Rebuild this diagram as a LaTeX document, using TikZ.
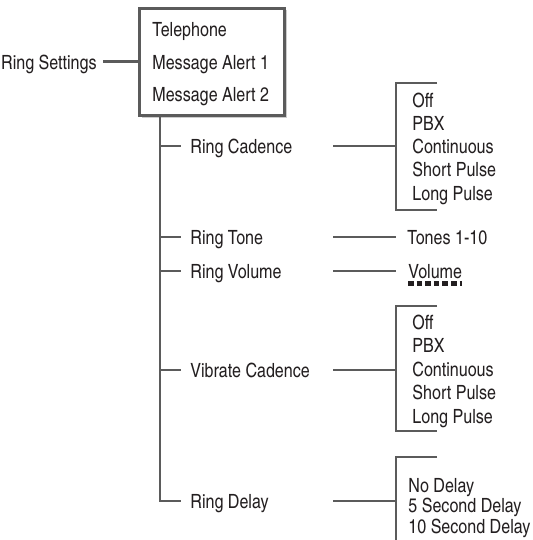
\documentclass[tikz,border=0pt]{standalone}
\usepackage{fontspec}
\setmainfont{TeX Gyre Heros Cn}
\usepackage{xcolor}
\usepackage{tikz}
\usetikzlibrary{shadows}
\definecolor{ink}{HTML}{231F20}
\definecolor{wire}{HTML}{5B5B5B}

\begin{document}
\begin{tikzpicture}[
          x=0.5pt, y=-0.5pt,
          lbl/.style={font=\fontsize{9.8}{12}\selectfont, text=ink, anchor=west,
                      inner xsep=0pt, inner ysep=0pt, text height=0.72em, text depth=0pt},
          link/.style={draw=wire, line width=1.1pt},
          menubox/.style={draw=wire, line width=1.5pt, fill=white,
                      minimum width=72.5pt, minimum height=53.5pt,
                      drop shadow={shadow xshift=1pt, shadow yshift=-1pt, fill=black!40}},
          dotline/.style={draw=ink, line width=2.3pt, dash pattern=on 2.8pt off 1.5pt}
      ]
        \useasboundingbox (0,0) rectangle (533,540);

        \node[menubox] (box) at (212,62) {};
        \node[lbl] (tel)  at (152,29) {Telephone};
        \node[lbl] (msg1) at (152,62) {Message Alert 1};
        \node[lbl] (msg2) at (152,94) {Message Alert 2};
        \node[lbl, anchor=east] (rset) at (97,62) {Ring Settings};
        \draw[draw=wire, line width=1.5pt] ([xshift=3pt]rset.east) -- (box.west);

        \node[lbl] (cadence) at (190,146) {Ring Cadence};
        \node[lbl] (tone)    at (190,237) {Ring Tone};
        \node[lbl] (volume)  at (190,271) {Ring Volume};
        \node[lbl] (vibrate) at (190,370) {Vibrate Cadence};
        \node[lbl] (delay)   at (190,501) {Ring Delay};

        % trunk and ticks
        \coordinate (trunk) at ([xshift=11pt]box.south west);
        \draw[link] (trunk) |- ([xshift=-4.5pt]delay.west);
        \draw[link] (cadence.west -| trunk) -- ([xshift=-4.5pt]cadence.west);
        \draw[link] (tone.west -| trunk) -- ([xshift=-4.5pt]tone.west);
        \draw[link] (volume.west -| trunk) -- ([xshift=-4.5pt]volume.west);
        \draw[link] (vibrate.west -| trunk) -- ([xshift=-4.5pt]vibrate.west);

        % choices
        \node[lbl] (cad1) at (412,100)    {Off};
        \node[lbl] (cad2) at (412,123.25) {PBX};
        \node[lbl] (cad3) at (412,146.5)  {Continuous};
        \node[lbl] (cad4) at (412,169.75) {Short Pulse};
        \node[lbl] (cad5) at (412,193)    {Long Pulse};
        \node[lbl] (tones) at (407,237) {Tones 1-10};
        \node[lbl] (vol)   at (408,271) {Volume};
        \draw[dotline] ([yshift=-2.75pt]vol.base west) -- ([yshift=-2.75pt]vol.base east);
        \node[lbl] (vib1) at (412,322)   {Off};
        \node[lbl] (vib2) at (412,345.5) {PBX};
        \node[lbl] (vib3) at (412,369)   {Continuous};
        \node[lbl] (vib4) at (412,392.5) {Short Pulse};
        \node[lbl] (vib5) at (412,416)   {Long Pulse};
        \node[lbl] (del1) at (408,485)   {No Delay};
        \node[lbl] (del2) at (408,505.5) {5 Second Delay};
        \node[lbl] (del3) at (408,526)   {10 Second Delay};

        % brackets
        \coordinate (mid) at (333,0);
        \coordinate (brk) at (396,0);
        \coordinate (cadtop) at (396,83);
        \coordinate (cadbot) at (396,210);
        \coordinate (vibtop) at (396,306);
        \coordinate (vibbot) at (396,431);
        \coordinate (deltop) at (396,457);
        \coordinate (delbot) at (396,545);
        \draw[link] ([xshift=20.5pt]cadtop) -- (cadtop) -- (cadbot) -- ([xshift=20.5pt]cadbot);
        \draw[link] ([xshift=20.5pt]vibtop) -- (vibtop) -- (vibbot) -- ([xshift=20.5pt]vibbot);
        \draw[link] ([xshift=20.5pt]deltop) -- (deltop) -- (delbot);

        \draw[link] (cadence.west -| mid) -- (cadence.west -| brk);
        \draw[link] (tone.west -| mid) -- (tone.west -| brk);
        \draw[link] (volume.west -| mid) -- (volume.west -| brk);
        \draw[link] (vibrate.west -| mid) -- (vibrate.west -| brk);
        \draw[link] (delay.west -| mid) -- (delay.west -| brk);
      \end{tikzpicture}
\end{document}
